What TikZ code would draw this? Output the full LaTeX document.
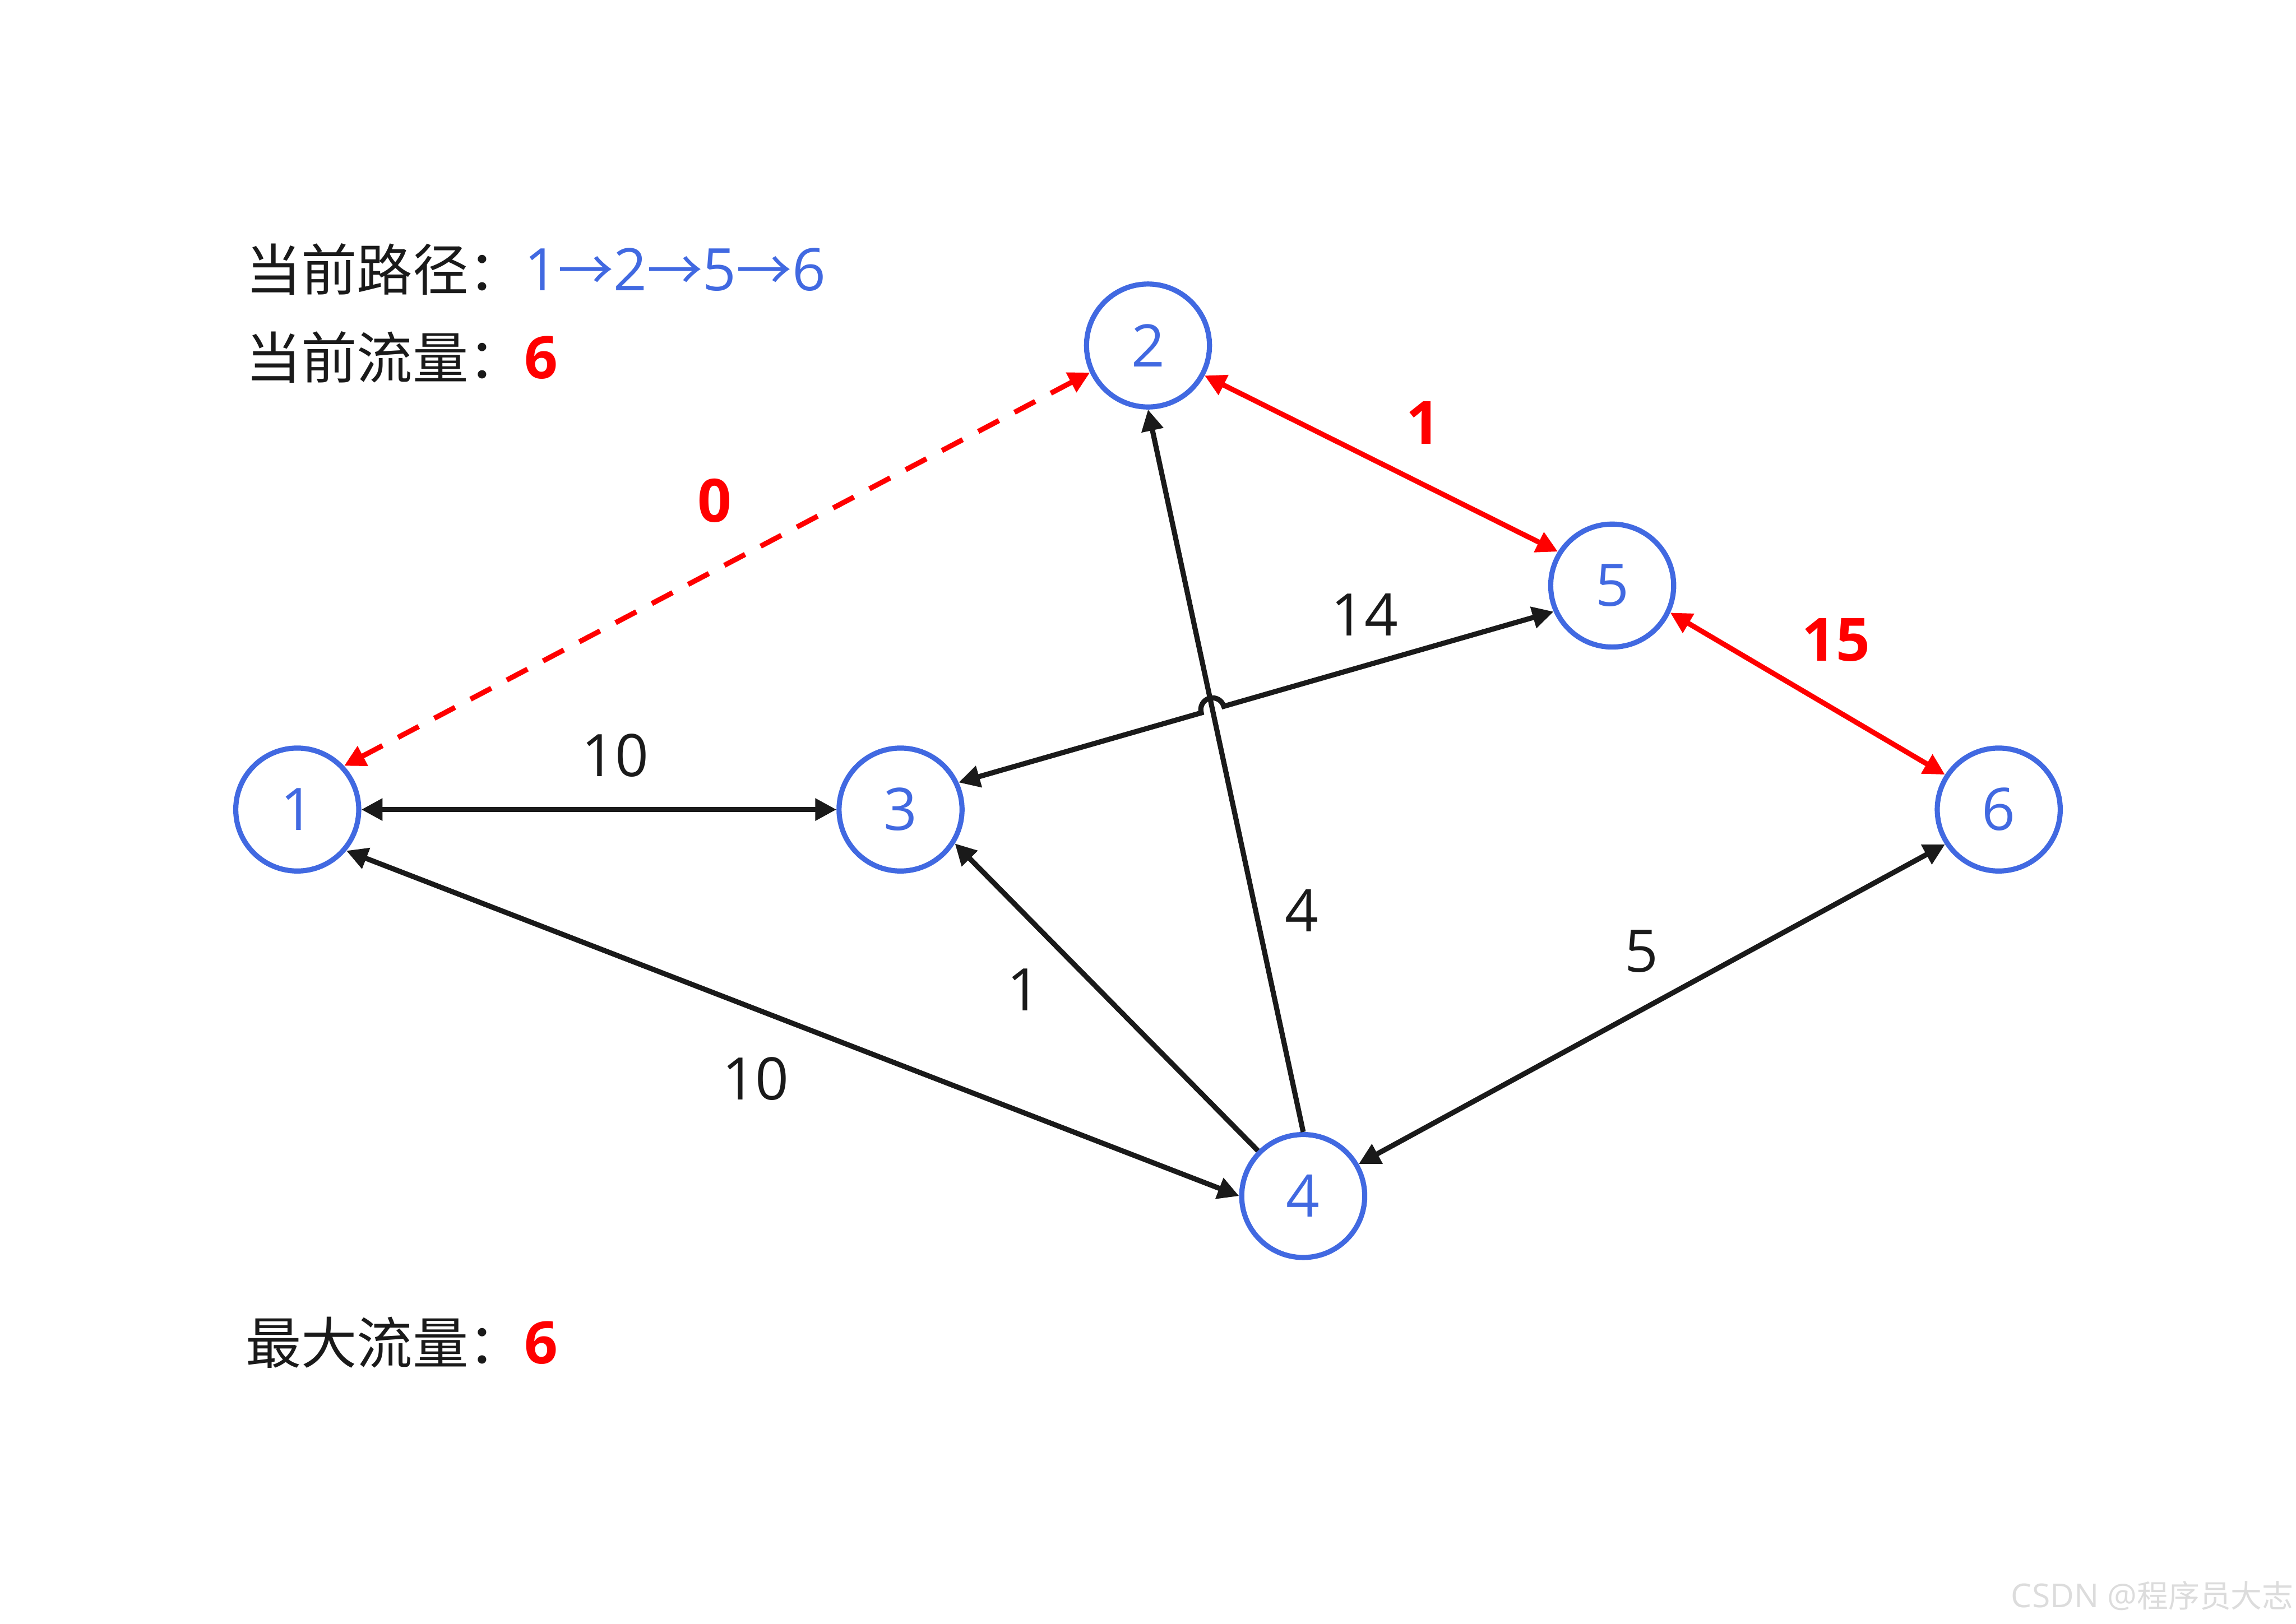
\documentclass[tikz,border=0pt]{standalone}
\usepackage{fontspec}
\setmainfont{Open Sans}
\newfontfamily\cjk[Scale=0.95]{Noto Sans CJK SC}
\usetikzlibrary{arrows.meta,calc}
\definecolor{ink}{HTML}{1A1A1A}
\definecolor{vblue}{HTML}{4169E1}
\definecolor{hot}{HTML}{FF0000}
\definecolor{faint}{HTML}{DCDCDC}
\tikzset{
  vx/.style={circle,draw=vblue,line width=1pt,fill=white,minimum size=8.4mm,inner sep=0pt,text=vblue,font=\fontsize{11.4}{13}\selectfont},
  legend/.style={anchor=west,inner sep=0pt,text=ink,font=\fontsize{11.4}{13}\selectfont},
  wt/.style={inner sep=0pt,text=ink,font=\fontsize{11.4}{13}\selectfont},
  wth/.style={wt,text=hot,font=\fontsize{11.6}{13}\selectfont\bfseries},
  both/.style={{Triangle[length=1.45mm,width=1.45mm]}-{Triangle[length=1.45mm,width=1.45mm]},draw=ink,line width=1pt},
  one/.style={-{Triangle[length=1.45mm,width=1.45mm]},draw=ink,line width=1pt},
  hotb/.style={both,draw=hot},
  hotd/.style={hotb,dash pattern=on 1.6mm off 1.2mm},
}

\begin{document}
\begin{tikzpicture}[x=0.1mm,y=0.1mm]
  \useasboundingbox (0,0) rectangle (1568,-1109);
  \node[vx] (n1) at (203,-553) {1};
  \node[vx] (n2) at (784,-236) {2};
  \node[vx] (n3) at (615,-553) {3};
  \node[vx] (n4) at (890,-817) {4};
  \node[vx] (n5) at (1101,-400) {5};
  \node[vx] (n6) at (1365,-553) {6};

  % augmenting path (red)
  \draw[hotd] (n1.43) -- (n2.-155);
  \draw[hotb] (n2.-28) -- (n5.148);
  \draw[hotb] (n5.-25) -- (n6.147);

  \draw[both] (n1.east) -- (n3.west);
  \draw[both] (n1.-40) -- (n4.west);
  \draw[both] (n4.30) -- (n6.-147);
  \draw[one] (n4.north west) -- (n3.-32);
  \draw[one] (n4.north) -- (n2.south);
  % 3--5 hops over 4--2
  \coordinate (x) at (intersection of n3.25--n5.-156.5 and n4.north--n2.south);
  \coordinate (h1) at ($(x)!0.8mm!(n3.25)$);
  \draw[both] (n3.25) -- (h1) arc[start angle=196.2,end angle=16.2,radius=0.8mm] -- (n5.-156.5);

  \node[wth] (w12) at (488,-342) {0};
  \node[wth] (w25) at (972,-289) {1};
  \node[wth] (w56) at (1254,-437) {15};
  \node[wt] (w13) at (420,-516) {10};
  \node[wt] (w35) at (932,-420) {14};
  \node[wt] (w42) at (889,-622) {4};
  \node[wt] (w43) at (699,-676) {1};
  \node[wt] (w14) at (516,-737) {10};
  \node[wt] (w46) at (1121,-650) {5};

  \node[legend] (path) at (167,-184) {{\cjk 当前路径：}{\color{vblue}1{\cjk→}2{\cjk→}5{\cjk→}6}};
  \node[legend] (cur) at (167,-244) {{\cjk 当前流量：}{\color{hot}\bfseries 6}};
  \node[legend] (maxf) at (167,-917) {{\cjk 最大流量：}{\color{hot}\bfseries 6}};
  \node[anchor=east,inner sep=0pt,text=faint,font=\fontsize{6.4}{7}\selectfont] (wm) at (1567,-1090) {CSDN @{\cjk 程序员大志}};
\end{tikzpicture}
\end{document}
